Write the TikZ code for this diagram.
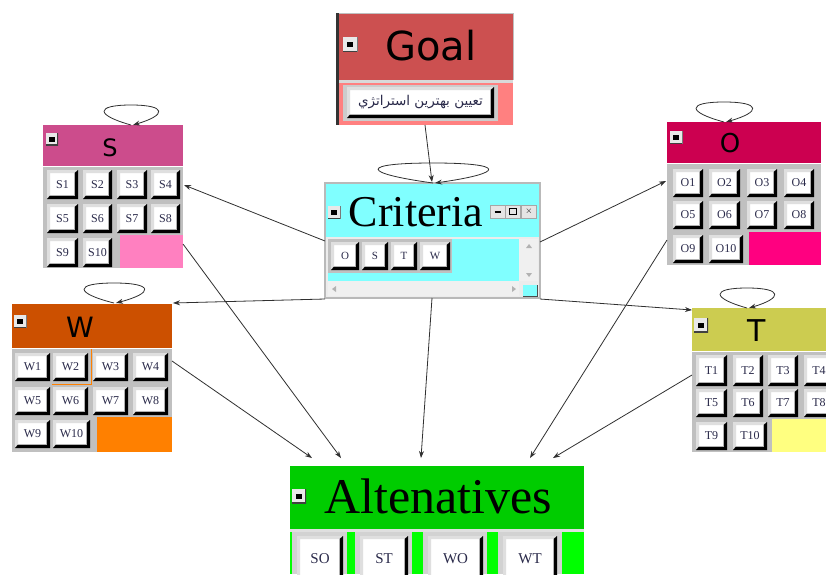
\documentclass[tikz,border=0pt]{standalone}
\usepackage{fontspec}
\setmainfont{Liberation Serif}
\newfontfamily\hdrfont{DejaVu Sans}
\newfontfamily\arabicfont[Script=Arabic]{DejaVu Sans}
\TeXXeTstate=1
\usetikzlibrary{arrows.meta,calc}
\definecolor{goalHdr}{HTML}{CC5050}
\definecolor{goalRow}{HTML}{FF8080}
\definecolor{sHdr}{HTML}{CC4C8C}
\definecolor{sBlk}{HTML}{FF80C0}
\definecolor{oHdr}{HTML}{CC0050}
\definecolor{oBlk}{HTML}{FF0080}
\definecolor{wHdr}{HTML}{CC5000}
\definecolor{wBlk}{HTML}{FF8000}
\definecolor{tHdr}{HTML}{CCCC50}
\definecolor{tBlk}{HTML}{FFFF80}
\definecolor{critC}{HTML}{80FFFF}
\definecolor{altHdr}{HTML}{00CC00}
\definecolor{altRow}{HTML}{00FF00}
\definecolor{gridgray}{HTML}{C0C0C0}
\definecolor{linecol}{HTML}{303030}
\definecolor{btntext}{HTML}{2A2A4A}
\tikzset{
  btn/.style={fill=white, inner sep=0pt, text=btntext, font=\fontsize{12}{12}\selectfont,
    path picture={
      \fill[gray!25] (path picture bounding box.north west) -- (path picture bounding box.north east)
        -- ([shift={(-3pt,-3pt)}]path picture bounding box.north east) -- ([shift={(3pt,-3pt)}]path picture bounding box.north west)
        -- ([shift={(3pt,3pt)}]path picture bounding box.south west) -- (path picture bounding box.south west) -- cycle;
      \fill[black] (path picture bounding box.north east) -- (path picture bounding box.south east)
        -- (path picture bounding box.south west) -- ([shift={(3pt,3.5pt)}]path picture bounding box.south west)
        -- ([shift={(-3.5pt,3.5pt)}]path picture bounding box.south east) -- ([shift={(-3.5pt,-3pt)}]path picture bounding box.north east) -- cycle;
      \draw[gray!60, line width=1pt] ([shift={(3pt,4pt)}]path picture bounding box.south west)
        -- ([shift={(-4pt,4pt)}]path picture bounding box.south east) -- ([shift={(-4pt,-3pt)}]path picture bounding box.north east);
    }},
  icon/.style={inner sep=0pt, fill=gray!18,
    path picture={
      \draw[black!75, line width=2pt] (path picture bounding box.north east) -- (path picture bounding box.south east) -- (path picture bounding box.south west);
      \fill[black] ([shift={(-3pt,-2.5pt)}]path picture bounding box.center) rectangle ([shift={(2.5pt,2.5pt)}]path picture bounding box.center);
    }},
  winbtn/.style={inner sep=0pt, fill=gray!20, draw=gray!70, minimum width=15, minimum height=13, font=\hdrfont\fontsize{9}{9}\selectfont},
  hdr/.style={font=\hdrfont\fontsize{#1}{#1}\selectfont, inner sep=0pt},
  serifttl/.style={font=\fontsize{#1}{#1}\selectfont, inner sep=0pt},
  conn/.style={draw=linecol, line width=0.8pt, -{Stealth[length=7pt,width=5pt]}}
}
\newcommand\btn[6]{\node[btn, minimum width={#4-#2}, minimum height={#5-#3}] (#1) at ({(#2+#4)/2},{(#3+#5)/2}) {#6};}
\newcommand\selfloop[3]{\draw[conn] (#1) .. controls ($(#1)+({-1.33*#2},{-0.5*#3})$) and ($(#1)+({-1.33*#2},{-#3})$) .. ($(#1)+(0,{-#3})$) .. controls ($(#1)+({1.33*#2},{-#3})$) and ($(#1)+({1.33*#2},{-0.5*#3})$) .. ($(#1)+(2,0)$);}
\begin{document}
\begin{tikzpicture}[x=1pt,y=-1pt]
\clip (0,0) rectangle (826,574);
\fill[white] (0,0) rectangle (826,574);

% ---------- Goal ----------
\fill[black!80] (336,13) rectangle (339,125);
\fill[goalHdr] (339,13) rectangle (513,80);
\draw[gray!50, line width=0.6pt] (339,13) -- (513,13) -- (513,80);
\fill[gray!30] (339,80) rectangle (513,83);
\fill[goalRow] (339,83) rectangle (513,125);
\fill[gray!40] (343,85) rectangle (498,121);
\node[btn, minimum width=147, minimum height=31] (goalBtn) at (420.5,102.5) {\arabicfont\fontsize{13.5}{13.5}\selectfont\beginR تعيين بهترين استراتژي\endR};
\node[icon, minimum size=15] (goalIcon) at (350,44) {};
\node[hdr=40] (goalT) at (431,46) {Goal};

% ---------- S ----------
\fill[sHdr] (43,125) rectangle (183,166);
\fill[gridgray] (43,166) rectangle (183,268);
\draw[white, line width=0.8pt] (43,166) -- (183,166);
\fill[sBlk] (120,235) rectangle (183,268);
\node[icon, minimum size=12] (sIcon) at (52,139) {};
\node[hdr=24] (sT) at (110,148) {S};
\btn{s1}{47}{170}{78}{199}{S1}\btn{s2}{83}{170}{112}{199}{S2}\btn{s3}{117}{170}{147}{199}{S3}\btn{s4}{151}{170}{180}{199}{S4}
\btn{s5}{47}{204}{78}{233}{S5}\btn{s6}{83}{204}{112}{233}{S6}\btn{s7}{117}{204}{147}{233}{S7}\btn{s8}{151}{204}{180}{233}{S8}
\btn{s9}{47}{238}{78}{267}{S9}\btn{s10}{83}{238}{112}{267}{S10}

% ---------- O ----------
\fill[oHdr] (667,122) rectangle (821,163);
\fill[gridgray] (667,163) rectangle (821,265);
\draw[white, line width=0.8pt] (667,163) -- (821,163);
\fill[oBlk] (749,232) rectangle (821,265);
\node[icon, minimum size=13] (oIcon) at (676,137) {};
\node[hdr=26] (oT) at (730,143) {O};
\btn{o1}{673}{169}{703}{197}{O1}\btn{o2}{709}{169}{740}{197}{O2}\btn{o3}{747}{169}{777}{197}{O3}\btn{o4}{784}{169}{814}{197}{O4}
\btn{o5}{673}{201}{703}{229}{O5}\btn{o6}{709}{201}{740}{229}{O6}\btn{o7}{747}{201}{777}{229}{O7}\btn{o8}{784}{201}{814}{229}{O8}
\btn{o9}{673}{235}{703}{263}{O9}\btn{o10}{709}{235}{743}{263}{O10}

% ---------- W ----------
\fill[wHdr] (12,304) rectangle (172,348);
\fill[gridgray] (12,348) rectangle (172,452);
\draw[white, line width=0.8pt] (12,348) -- (172,348);
\fill[wBlk] (97,417) rectangle (172,452);
\node[icon, minimum size=13] (wIcon) at (20,321) {};
\node[hdr=28] (wT) at (80,327) {W};
\btn{w1}{15}{353}{50}{381}{W1}\btn{w2}{53}{353}{88}{381}{W2}\btn{w3}{93}{353}{128}{381}{W3}\btn{w4}{133}{353}{168}{381}{W4}
\btn{w5}{15}{387}{50}{415}{W5}\btn{w6}{53}{387}{88}{415}{W6}\btn{w7}{93}{387}{128}{415}{W7}\btn{w8}{133}{387}{168}{415}{W8}
\btn{w9}{15}{420}{50}{448}{W9}\btn{w10}{53}{420}{90}{448}{W10}
\draw[wBlk, line width=1pt] (52,384) -- (91,384) -- (91,349);

% ---------- T ----------
\fill[tHdr] (692,308) rectangle (826,351);
\fill[gridgray] (692,351) rectangle (826,452);
\draw[white, line width=0.8pt] (692,351) -- (826,351);
\fill[tBlk] (772,419) rectangle (826,452);
\node[icon, minimum size=14] (tIcon) at (701,325) {};
\node[hdr=30] (tT) at (757,331) {T};
\btn{t1}{696}{355}{727}{386}{T1}\btn{t2}{733}{355}{763}{386}{T2}\btn{t3}{768}{355}{798}{386}{T3}\btn{t4}{804}{355}{834}{386}{T4}
\btn{t5}{696}{389}{727}{417}{T5}\btn{t6}{733}{389}{763}{417}{T6}\btn{t7}{768}{389}{798}{417}{T7}\btn{t8}{804}{389}{834}{417}{T8}
\btn{t9}{696}{422}{727}{450}{T9}\btn{t10}{733}{422}{767}{450}{T10}

% ---------- Criteria ----------
\fill[gray!15] (325,183) rectangle (540,298);
\draw[gray!55, line width=1.2pt] (325,183) rectangle (540,298);
\fill[critC] (326,184) rectangle (539,237);
\fill[critC] (328,239) rectangle (519,281);
\fill[gridgray] (328,239) rectangle (452,273);
\node[icon, minimum size=13] (cIcon) at (334,212) {};
\node[serifttl=44] (cT) at (416,212) {Criteria};
\node[winbtn] (cMin) at (497.5,211.5) {\raisebox{-2pt}{\rule{6pt}{1.5pt}}};
\node[winbtn] (cMax) at (513,211.5) {\tikz\draw[line width=1pt] (0,0) rectangle (7pt,6pt);};
\node[winbtn] (cClose) at (529,211.5) {$\times$};
\fill[gray!12] (519,239) rectangle (538,281);
\fill[gray!12] (328,281) rectangle (519,296);
\fill[gray!60] (526,248) -- (532,248) -- (529,244) -- cycle;
\fill[gray!60] (526,273) -- (532,273) -- (529,277) -- cycle;
\fill[gray!60] (336,286) -- (336,292) -- (332,289) -- cycle;
\fill[gray!60] (512,286) -- (512,292) -- (516,289) -- cycle;
\fill[critC] (523,285) rectangle (537,296);
\draw[black!70, line width=1pt] (523,296) -- (537,296) -- (537,285);
\begin{scope}[btn/.append style={font=\fontsize{11}{11}\selectfont}]
\btn{cO}{331}{242}{359}{270}{O}\btn{cS}{362}{242}{388}{270}{S}\btn{cTb}{391}{242}{417}{270}{T}\btn{cW}{420}{242}{450}{270}{W}
\end{scope}

% ---------- Altenatives ----------
\fill[altHdr] (290,466) rectangle (584,529);
\fill[gray!25] (290,529) rectangle (584,532);
\fill[altRow] (290,532) rectangle (584,574);
\fill[gray!35] (292,532) rectangle (347,574);
\fill[gray!35] (355,532) rectangle (412,574);
\fill[gray!35] (423,532) rectangle (487,574);
\fill[gray!35] (498,532) rectangle (562,574);
\node[icon, minimum size=14] (aIcon) at (299,496) {};
\node[serifttl=50] (aT) at (438,496) {Altenatives};
\begin{scope}[btn/.append style={font=\fontsize{15}{15}\selectfont}]
\btn{aSO}{297}{536}{343}{582}{SO}\btn{aST}{360}{536}{408}{582}{ST}\btn{aWO}{428}{536}{483}{582}{WO}\btn{aWT}{503}{536}{557}{582}{WT}
\end{scope}

% ---------- connector end points ----------
\coordinate (goalOut) at (425,125);
\coordinate (critTop) at (432,182);
\coordinate (critL1) at (325,241);
\coordinate (sIn) at (184,185);
\coordinate (critR1) at (540,242);
\coordinate (oIn) at (666,181);
\coordinate (critL2) at (325,299);
\coordinate (wIn) at (173,303);
\coordinate (critR2) at (540,299);
\coordinate (tIn) at (692,310);
\coordinate (critBot) at (432,298);
\coordinate (altIn3) at (421,458);
\coordinate (sOut) at (183,244);
\coordinate (altIn2) at (341,458);
\coordinate (wOut) at (172,361);
\coordinate (altIn1) at (312,458);
\coordinate (oOut) at (667,240);
\coordinate (altIn4) at (530,458);
\coordinate (tOut) at (692,375);
\coordinate (altIn5) at (553,458);
\coordinate (sLoop) at (131,125);
\coordinate (oLoop) at (724,122);
\coordinate (wLoop) at (114,303);
\coordinate (tLoop) at (747,308);
\coordinate (cLoop) at (433,183);

% ---------- connectors ----------
\draw[conn] (goalOut) -- (critTop);
\draw[conn] (critL1) -- (sIn);
\draw[conn] (critR1) -- (oIn);
\draw[conn] (critL2) -- (wIn);
\draw[conn] (critR2) -- (tIn);
\draw[conn] (critBot) -- (altIn3);
\draw[conn] (sOut) -- (altIn2);
\draw[conn] (wOut) -- (altIn1);
\draw[conn] (oOut) -- (altIn4);
\draw[conn] (tOut) -- (altIn5);
\selfloop{sLoop}{27}{20}
\selfloop{oLoop}{28}{20}
\selfloop{wLoop}{30}{20}
\selfloop{tLoop}{27}{20}
\selfloop{cLoop}{55}{20}
\end{tikzpicture}
\end{document}
